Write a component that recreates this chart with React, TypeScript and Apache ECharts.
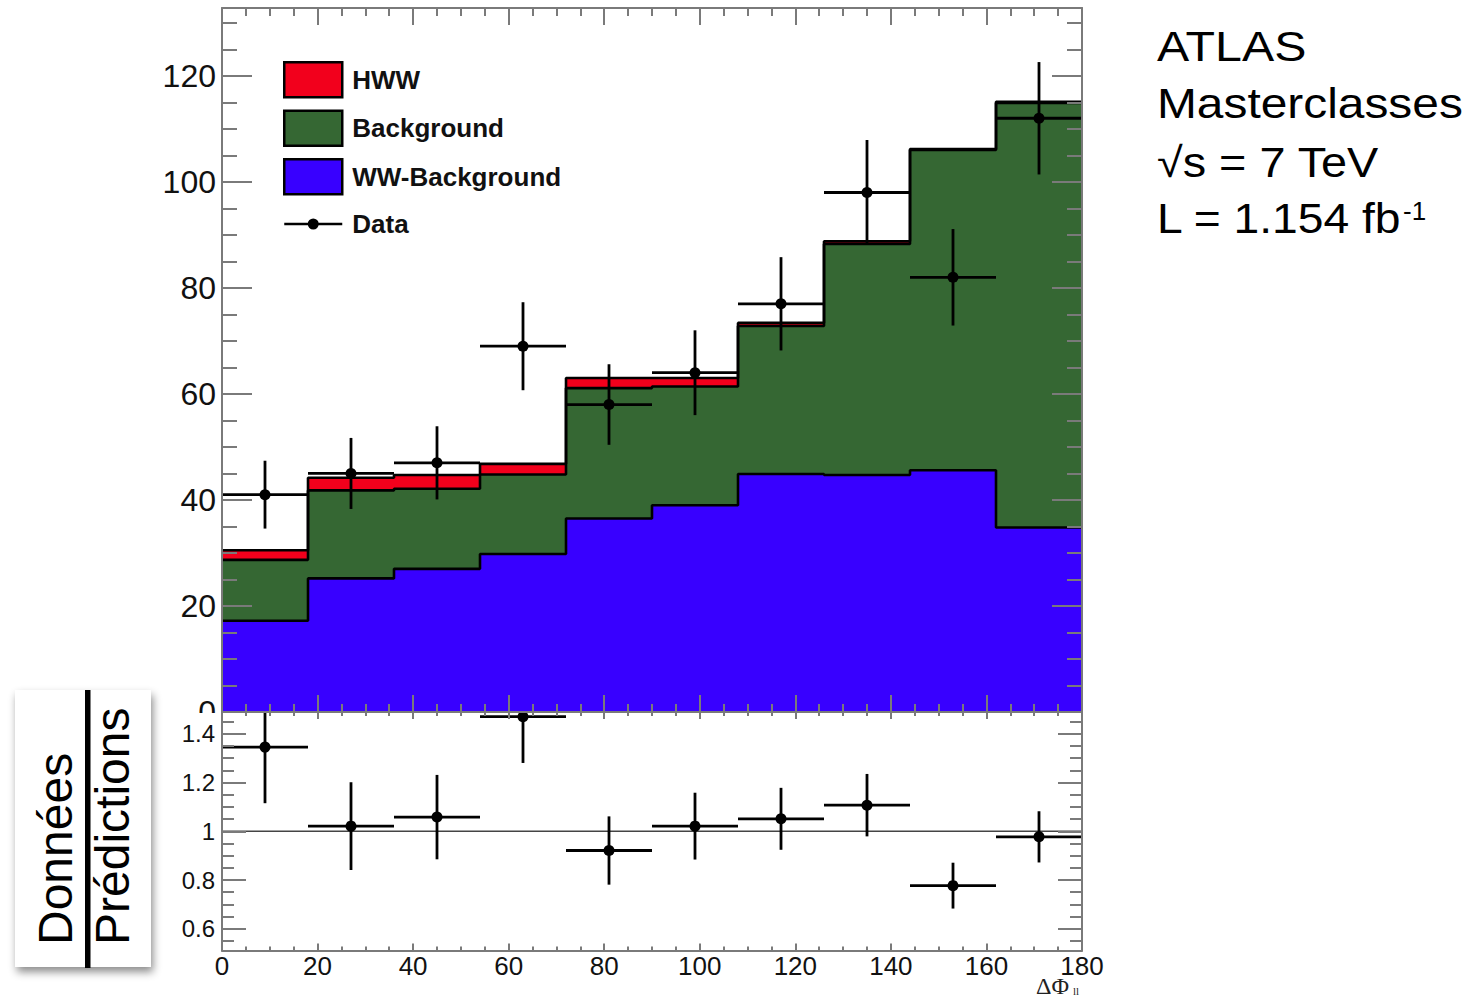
import React, { useEffect, useRef } from "react";
import * as echarts from "echarts";

// ---- data ----
const binEdges = [0, 18, 36, 54, 72, 90, 108, 126, 144, 162, 180];
const hwwValues = [1.8, 2.4, 2.6, 2.0, 1.9, 1.6, 0.6, 0.5, 0.2, 0.2];
const backgroundValues = [11.5, 16.6, 15.1, 15.0, 24.6, 22.4, 27.9, 43.6, 60.4, 80.1];
const wwValues = [17.2, 25.2, 27.0, 29.8, 36.5, 39.0, 44.9, 44.7, 45.6, 34.8];
const dataCounts = [41, 45, 47, 69, 58, 64, 77, 98, 82, 112];
const dataErrors = [6.4, 6.7, 6.9, 8.3, 7.6, 8.0, 8.8, 9.9, 9.1, 10.6];
const ratioValues = [1.345, 1.021, 1.058, 1.47, 0.921, 1.021, 1.051, 1.107, 0.777, 0.977];
const ratioErrors = [0.23, 0.18, 0.173, 0.19, 0.14, 0.137, 0.127, 0.128, 0.094, 0.105];
const ratioMajorTicks = [0.6, 0.8, 1, 1.2, 1.4];
const ratioMinorTicks = [0.55, 0.6, 0.65, 0.7, 0.75, 0.8, 0.85, 0.9, 0.95, 1, 1.05, 1.1, 1.15, 1.2, 1.25, 1.3, 1.35, 1.4, 1.45];
const unity = 1;
const legendNames = ["HWW", "Background", "WW-Background", "Data"];
const infoLines = ["ATLAS", "Masterclasses", "\u221As = 7 TeV", "L = 1.154 fb"];

const X_MIN = 0;
const X_MAX = 180;
const Y_MAX = 132.8;
const R_MIN = 0.511;
const R_MAX = 1.489;

const RED = "#f2001c";
const GREEN = "#356733";
const BLUE = "#3800ff";
const AXIS_COLOR = "#7a7a7a";
const SANS = "'Liberation Sans', Arial, Helvetica, sans-serif";
const SERIF = "'Liberation Serif', 'Times New Roman', serif";

const stepPoints = (vals: number[]) => [
  ...vals.map((v, i) => [binEdges[i], v]),
  [binEdges[vals.length], vals[vals.length - 1]],
];

const wwTop = wwValues.slice();
const bgTop = wwValues.map((v, i) => v + backgroundValues[i]);
const totalTop = bgTop.map((v, i) => v + hwwValues[i]);

const dataItems = dataCounts.map((v, i) => [binEdges[i], binEdges[i + 1], v, dataErrors[i]]);
const ratioItems = ratioValues.map((v, i) => [binEdges[i], binEdges[i + 1], v, ratioErrors[i]]);

const renderPoint = (params: any, api: any) => {
  const lo = api.value(0);
  const hi = api.value(1);
  const v = api.value(2);
  const e = api.value(3);
  const cs = params.coordSys;
  const clampY = (y: number) => Math.max(cs.y, Math.min(cs.y + cs.height, y));
  const mid = (lo + hi) / 2;
  const pL = api.coord([lo, v]);
  const pR = api.coord([hi, v]);
  const pC = api.coord([mid, v]);
  const pT = api.coord([mid, v + e]);
  const pB = api.coord([mid, v - e]);
  const style = { stroke: "#000", lineWidth: 2.8 };
  return {
    type: "group",
    children: [
      { type: "line", shape: { x1: pL[0], y1: pC[1], x2: pR[0], y2: pC[1] }, style },
      { type: "line", shape: { x1: pC[0], y1: clampY(pT[1]), x2: pC[0], y2: clampY(pB[1]) }, style },
      { type: "circle", shape: { cx: pC[0], cy: pC[1], r: 5.5 }, style: { fill: "#000" } },
    ],
  };
};

const lineStyleAxis = { color: AXIS_COLOR, width: 2 };

function xAxisDef(grid: number, pos: string, major: number, minor: number, labels: boolean) {
  return {
    type: "value",
    gridIndex: grid,
    position: pos,
    min: X_MIN,
    max: X_MAX,
    interval: 20,
    z: 10,
    axisLine: { show: true, onZero: false, lineStyle: lineStyleAxis },
    axisTick: { show: true, inside: true, length: major, lineStyle: lineStyleAxis },
    minorTick: { show: true, splitNumber: 4, length: minor, lineStyle: lineStyleAxis },
    splitLine: { show: false },
    minorSplitLine: { show: false },
    axisLabel: labels
      ? { show: true, fontFamily: SANS, fontSize: 26, color: "#111", margin: 2 }
      : { show: false },
  };
}

function topYAxisDef(pos: string, interval: number, tickLen: number, labels: boolean, line: boolean) {
  return {
    type: "value",
    gridIndex: 0,
    position: pos,
    min: 0,
    max: Y_MAX,
    interval,
    z: 10,
    axisLine: { show: line, onZero: false, lineStyle: lineStyleAxis },
    axisTick: { show: true, inside: true, length: tickLen, lineStyle: lineStyleAxis },
    splitLine: { show: false },
    axisLabel: labels
      ? {
          show: true,
          fontFamily: SANS,
          fontSize: 32,
          lineHeight: 22,
          color: "#111",
          margin: 6,
          showMaxLabel: false,
        }
      : { show: false },
  };
}

function ratioYAxisDef(pos: string, ticks: number[], tickLen: number, labels: boolean, line: boolean) {
  return {
    type: "value",
    gridIndex: 1,
    position: pos,
    min: R_MIN,
    max: R_MAX,
    z: 10,
    axisLine: { show: line, onZero: false, lineStyle: lineStyleAxis },
    axisTick: { show: true, inside: true, length: tickLen, lineStyle: lineStyleAxis, customValues: ticks },
    splitLine: { show: false },
    axisLabel: labels
      ? {
          show: true,
          fontFamily: SANS,
          fontSize: 24,
          lineHeight: 18,
          color: "#111",
          margin: 7,
          customValues: ticks,
        }
      : { show: false },
  };
}

const dataIcon =
  "path://M0,0L0.01,0L0,0.01Z M58,35L57.99,35L58,34.99Z M0,16.3H58V18.7H0Z M29,12A5.5,5.5 0 1 1 29,23A5.5,5.5 0 1 1 29,12Z";

export default function App() {
  const ref = useRef<HTMLDivElement>(null);
  useEffect(() => {
    if (!ref.current) return;
    const chart = echarts.init(ref.current, undefined, { renderer: "svg" });
    const areaSeries = (name: string, vals: number[], color: string) => ({
      type: "line",
      name,
      xAxisIndex: 0,
      yAxisIndex: 0,
      step: "end",
      data: stepPoints(vals),
      symbol: "none",
      lineStyle: { color: "#000", width: 2.6 },
      itemStyle: { color },
      areaStyle: { color, opacity: 1 },
      z: 2,
    });
    const infoScale = [1.15, 1.14, 1.115, 1.1];
    const infoY = [46.7, 103.3, 162.0, 218.3];
    const option: any = {
      animation: false,
      backgroundColor: "#fff",
      grid: [
        { left: 222, top: 8, width: 860, height: 704, containLabel: false },
        { left: 222, top: 712, width: 860, height: 238.5, containLabel: false },
      ],
      xAxis: [
        xAxisDef(0, "bottom", 17, 8, false),
        xAxisDef(0, "top", 17, 8, false),
        xAxisDef(1, "bottom", 7, 4, true),
        xAxisDef(1, "top", 7, 4, false),
      ],
      yAxis: [
        topYAxisDef("left", 20, 30, true, true),
        topYAxisDef("left", 5, 15, false, false),
        topYAxisDef("right", 20, 30, false, true),
        topYAxisDef("right", 5, 15, false, false),
        ratioYAxisDef("left", ratioMajorTicks, 24, true, true),
        ratioYAxisDef("left", ratioMinorTicks, 12, false, false),
        ratioYAxisDef("right", ratioMajorTicks, 24, false, true),
        ratioYAxisDef("right", ratioMinorTicks, 12, false, false),
      ],
      legend: {
        orient: "vertical",
        left: 283,
        top: 61,
        padding: 0,
        itemWidth: 58,
        itemHeight: 35,
        itemGap: 11,
        selectedMode: false,
        textStyle: {
          fontFamily: SANS,
          fontWeight: "bold",
          fontSize: 26,
          lineHeight: 35,
          color: "#111",
          padding: [0, 0, 0, 5],
        },
        data: [
          { name: legendNames[0], icon: "rect", itemStyle: { color: RED, borderColor: "#000", borderWidth: 2.5 } },
          { name: legendNames[1], icon: "rect", itemStyle: { color: GREEN, borderColor: "#000", borderWidth: 2.5 } },
          { name: legendNames[2], icon: "rect", itemStyle: { color: BLUE, borderColor: "#000", borderWidth: 2.5 } },
          { name: legendNames[3], icon: dataIcon, itemStyle: { color: "#000", borderWidth: 0 } },
        ],
      },
      series: [
        areaSeries(legendNames[0], totalTop, RED),
        areaSeries(legendNames[1], bgTop, GREEN),
        areaSeries(legendNames[2], wwTop, BLUE),
        {
          type: "custom",
          name: legendNames[3],
          xAxisIndex: 0,
          yAxisIndex: 0,
          encode: { x: [0, 1], y: [2] },
          data: dataItems,
          renderItem: renderPoint,
          itemStyle: { color: "#000" },
          z: 5,
        },
        {
          type: "line",
          name: "unity",
          xAxisIndex: 2,
          yAxisIndex: 4,
          data: [
            [X_MIN, unity],
            [X_MAX, unity],
          ],
          symbol: "none",
          lineStyle: { color: "#444", width: 1.6 },
          z: 3,
        },
        {
          type: "custom",
          name: "Ratio",
          xAxisIndex: 2,
          yAxisIndex: 4,
          encode: { x: [0, 1], y: [2] },
          data: ratioItems,
          renderItem: renderPoint,
          itemStyle: { color: "#000" },
          z: 5,
        },
      ],
      graphic: [
        // cover for the lower half of the "0" label of the top panel
        { type: "rect", z: 100, shape: { x: 150, y: 713, width: 70, height: 12 }, style: { fill: "#fff" } },
        // ratio label box
        {
          type: "rect",
          z: 100,
          shape: { x: 15, y: 690, width: 136, height: 277 },
          style: { fill: "#fff", shadowBlur: 8, shadowOffsetX: 2, shadowOffsetY: 5, shadowColor: "rgba(0,0,0,0.45)" },
        },
        { type: "rect", z: 101, shape: { x: 85, y: 690, width: 5.5, height: 278 }, style: { fill: "#000" } },
        {
          type: "text",
          z: 102,
          x: 55.5,
          y: 945,
          rotation: Math.PI / 2,
          style: {
            text: "Donn\u00e9es",
            fontFamily: SANS,
            fontSize: 48,
            fill: "#000",
            align: "left",
            textAlign: "left",
            verticalAlign: "middle",
            textVerticalAlign: "middle",
          },
        },
        {
          type: "text",
          z: 102,
          x: 112.5,
          y: 945,
          rotation: Math.PI / 2,
          style: {
            text: "Pr\u00e9dictions",
            fontFamily: SANS,
            fontSize: 48,
            fill: "#000",
            align: "left",
            textAlign: "left",
            verticalAlign: "middle",
            textVerticalAlign: "middle",
          },
        },
        ...infoLines.map((t, i) => ({
          type: "text",
          z: 102,
          x: 1157,
          y: infoY[i],
          scaleX: infoScale[i],
          style: {
            text: t,
            fontFamily: SANS,
            fontSize: 42,
            fill: "#000",
            align: "left",
            textAlign: "left",
            verticalAlign: "middle",
            textVerticalAlign: "middle",
          },
        })),
        {
          type: "text",
          z: 102,
          x: 1403,
          y: 211,
          style: {
            text: "-1",
            fontFamily: SANS,
            fontSize: 26,
            fill: "#000",
            align: "left",
            textAlign: "left",
            verticalAlign: "middle",
            textVerticalAlign: "middle",
          },
        },
        {
          type: "text",
          z: 102,
          x: 1036,
          y: 986,
          style: {
            text: "\u0394\u03a6",
            fontFamily: SERIF,
            fontSize: 24,
            fill: "#222",
            align: "left",
            textAlign: "left",
            verticalAlign: "middle",
            textVerticalAlign: "middle",
          },
        },
        {
          type: "text",
          z: 102,
          x: 1073,
          y: 991,
          style: {
            text: "ll",
            fontFamily: SERIF,
            fontSize: 11,
            fill: "#222",
            align: "left",
            textAlign: "left",
            verticalAlign: "middle",
            textVerticalAlign: "middle",
          },
        },
      ],
    };
    chart.setOption(option);
    return () => chart.dispose();
  }, []);
  return (
    <div
      ref={ref}
      style={{ position: "fixed", left: 0, top: 0, width: 1477, height: 998, background: "#fff" }}
    />
  );
}
